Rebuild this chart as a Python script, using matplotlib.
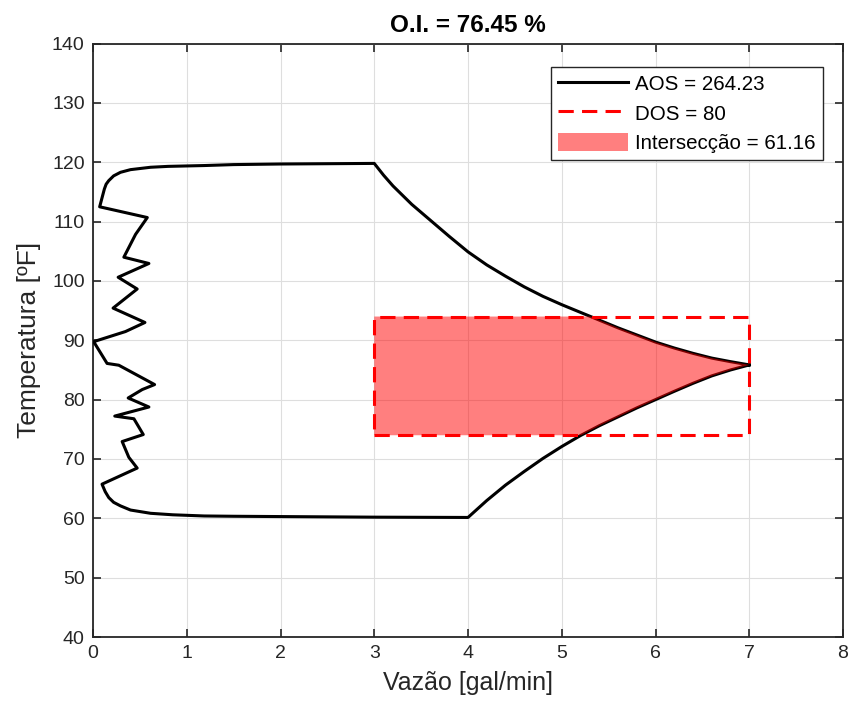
import numpy as np
import matplotlib
matplotlib.use("Agg")
import matplotlib.pyplot as plt

plt.rcParams['font.family'] = ['Liberation Sans', 'DejaVu Sans']

# ---- data ----
# AOS boundary: top curve (from flat top to tip), x in gal/min, y in F
top_x = [3.0, 3.1, 3.2, 3.4, 3.6, 3.8, 4.0, 4.2, 4.4, 4.6, 4.8, 5.0, 5.2, 5.4,
         5.6, 5.8, 6.0, 6.2, 6.4, 6.6, 6.8, 7.0]
top_y = [119.8, 117.8, 116.0, 112.9, 110.2, 107.5, 104.9, 102.7, 100.8, 99.0, 97.4,
         96.0, 94.7, 93.4, 92.1, 90.9, 89.7, 88.7, 87.8, 87.0, 86.4, 85.85]

# left jagged boundary, from top (near x=3) down to bottom (near x=4)
left_x = [2.5, 2.0, 1.5, 1.186, 0.8, 0.614, 0.4, 0.293, 0.22, 0.168, 0.14, 0.121, 0.071,
          0.579, 0.454, 0.329, 0.596, 0.268, 0.471, 0.214, 0.554, 0.346, 0.007, 0.15,
          0.275, 0.657, 0.525, 0.375, 0.596, 0.232, 0.436, 0.536, 0.311, 0.382, 0.471,
          0.096, 0.13, 0.168, 0.22, 0.293, 0.4, 0.614, 0.85, 1.186, 1.5, 2.0, 2.5, 3.0]
left_y = [119.75, 119.7, 119.6, 119.44, 119.3, 119.15, 118.75, 118.3, 117.7, 116.9,
          116.3, 115.48, 112.49, 110.68, 107.85, 104.0, 102.94, 100.62, 98.64, 95.42,
          93.0, 91.47, 89.77, 86.1, 85.8, 82.54, 81.7, 80.28, 78.76, 77.23, 76.78,
          74.12, 72.94, 70.28, 68.47, 65.76, 64.5, 63.5, 62.7, 62.1, 61.4, 60.85,
          60.6, 60.4, 60.35, 60.3, 60.25, 60.2]

# bottom curve (from flat bottom to tip)
bot_x = [4.0, 4.2, 4.4, 4.6, 4.8, 5.0, 5.2, 5.4, 5.6, 5.8, 6.0, 6.2, 6.4, 6.6, 6.8, 7.0]
bot_y = [60.15, 63.0, 65.6, 67.9, 70.1, 72.1, 73.95, 75.6, 77.1, 78.6, 80.0, 81.4,
         82.75, 84.0, 85.0, 85.85]

# DOS box
dos_x = [3.0, 7.0]
dos_y = [74.0, 94.0]

aos_value = 264.23
dos_value = 80
inter_value = 61.16
oi_value = 76.45

# ---- figure ----
fig = plt.figure(figsize=(8.51, 7.11), dpi=100)
ax = fig.add_axes([0.1093, 0.104, 0.8813, 0.8348])

# AOS closed outline
aos_x = top_x[::-1] + left_x + bot_x
aos_y = top_y[::-1] + left_y + bot_y
ax.plot(aos_x, aos_y, color='black', lw=2.2, label=f'AOS = {aos_value:.2f}',
        zorder=3, solid_joinstyle='round')

# DOS rectangle
bx = [dos_x[0], dos_x[1], dos_x[1], dos_x[0], dos_x[0]]
by = [dos_y[0], dos_y[0], dos_y[1], dos_y[1], dos_y[0]]
ax.plot(bx, by, color='red', lw=2.2, dashes=(5, 2.7), label=f'DOS = {dos_value}', zorder=3)

# intersection polygon
tx = np.array(top_x); ty = np.array(top_y)
bxa = np.array(bot_x); bya = np.array(bot_y)
x_top_cross = np.interp(dos_y[1], ty[::-1], tx[::-1])
x_bot_cross = np.interp(dos_y[0], bya, bxa)
mt = ty < dos_y[1]
mb = bya > dos_y[0]
px = [dos_x[0], dos_x[0], x_top_cross] + list(tx[mt]) + list(bxa[mb][::-1]) + [x_bot_cross]
py = [dos_y[0], dos_y[1], dos_y[1]] + list(ty[mt]) + list(bya[mb][::-1]) + [dos_y[0]]
ax.fill(px, py, color='red', alpha=0.5, lw=0, label=f'Intersecção = {inter_value:.2f}', zorder=4)

ax.set_xlim(0, 8)
ax.set_ylim(40, 140)
ax.set_xticks(np.arange(0, 9, 1))
ax.set_yticks(np.arange(40, 141, 10))
ax.grid(True, color='#dedede', lw=0.8)
ax.set_axisbelow(True)
for s in ax.spines.values():
    s.set_color('#262626')
    s.set_linewidth(1.3)
ax.tick_params(direction='in', length=5.5, width=1.2, colors='#262626',
               labelsize=14, top=True, right=True, pad=6)

ax.set_xlabel('Vazão [gal/min]', fontsize=18, color='#262626', labelpad=6)
ax.set_ylabel('Temperatura [ºF]', fontsize=19, color='#262626', labelpad=8)
ax.set_title(f'O.I. = {oi_value:.2f} %', fontsize=17.5, fontweight='bold', pad=8)

leg = ax.legend(loc='upper right', bbox_to_anchor=(0.973, 0.961), borderaxespad=0,
                fontsize=14.8, handlelength=3.4, handletextpad=0.35, labelspacing=0.45,
                handleheight=1.0, borderpad=0.35, fancybox=False, framealpha=1,
                edgecolor='#262626')
leg.get_frame().set_linewidth(1.0)

fig.savefig('out.png', dpi=100)
